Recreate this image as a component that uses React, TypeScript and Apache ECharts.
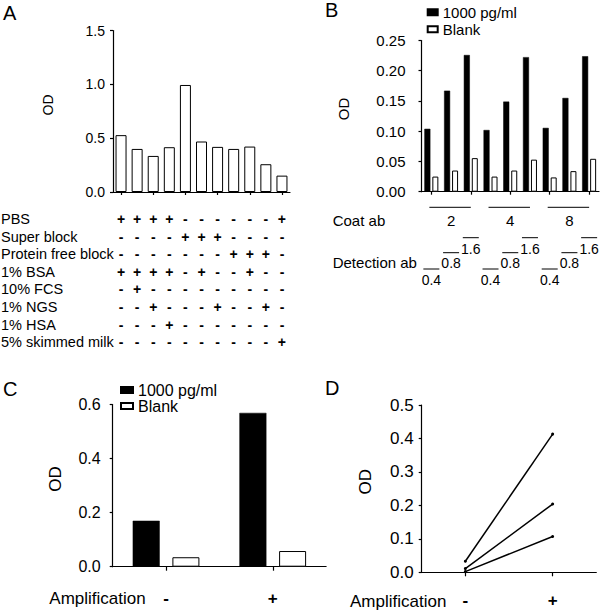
import React, { useEffect, useRef } from "react";
import * as echarts from "echarts";

const FONT = '"Liberation Sans", Arial, Helvetica, sans-serif';

// ---------- Panel A : blocking buffers ----------
const blockingBuffers = ["1", "2", "3", "4", "5", "6", "7", "8", "9", "10", "11"];
const blockingOD = [0.528, 0.4, 0.335, 0.416, 0.994, 0.469, 0.419, 0.4, 0.422, 0.258, 0.152];
const blockingRows = [
  "PBS",
  "Super block",
  "Protein free block",
  "1% BSA",
  "10% FCS",
  "1% NGS",
  "1% HSA",
  "5% skimmed milk",
];
const blockingMarks = [
  "++++------+",
  "----+++----",
  "-------+++-",
  "++++-+--+--",
  "-+---------",
  "--+---+--+-",
  "---+-------",
  "----------+",
];

// ---------- Panel B : antibody titration ----------
const coatAb = ["2", "4", "8"];
const detectionAb = ["0.4", "0.8", "1.6"];
const titrationConditions = coatAb.flatMap((c) => detectionAb.map((d) => `${c}/${d}`));
const titration1000 = [0.104, 0.167, 0.226, 0.102, 0.149, 0.2225, 0.1055, 0.155, 0.224];
const titrationBlank = [0.025, 0.035, 0.0555, 0.025, 0.035, 0.053, 0.0236, 0.034, 0.0544];

// ---------- Panel C : amplification ----------
const amplification = ["-", "+"];
const amp1000 = [0.17, 0.569];
const ampBlank = [0.035, 0.058];

// ---------- Panel D : amplification, three samples ----------
const ampHigh = [0.033, 0.413];
const ampMid = [0.011, 0.204];
const ampLow = [0.002, 0.107];

const SERIES_HIGH = "1000 pg/ml";
const SERIES_BLANK = "Blank";

function txt(
  text: string,
  x: number,
  y: number,
  size: number,
  align: string = "left",
  weight: string = "normal",
  rotation: number = 0
) {
  return {
    type: "text",
    x,
    y,
    rotation,
    silent: true,
    style: {
      text,
      font: `${weight} ${size}px ${FONT}`,
      fill: "#000",
      textAlign: align,
      textVerticalAlign: "middle",
      align,
      verticalAlign: "middle",
    },
  };
}

function hline(x1: number, x2: number, y: number) {
  return {
    type: "line",
    silent: true,
    shape: { x1, y1: y, x2, y2: y },
    style: { stroke: "#000", lineWidth: 1 },
  };
}

const axisLine = { show: true, lineStyle: { color: "#000", width: 1.2 } };

function yAxis(gridIndex: number, max: number, interval: number, fontSize: number, margin: number, digits: number) {
  return {
    gridIndex,
    type: "value",
    min: 0,
    max,
    interval,
    axisLine,
    axisTick: { show: true, length: 3, lineStyle: { color: "#000", width: 1.2 } },
    splitLine: { show: false },
    axisLabel: {
      fontSize,
      margin,
      color: "#000",
      fontFamily: FONT,
      formatter: (v: number) => v.toFixed(digits),
    },
  };
}

function xAxis(gridIndex: number, data: string[], tickLen: number, label: any) {
  return {
    gridIndex,
    type: "category",
    data,
    axisLine,
    axisTick: { show: true, alignWithLabel: true, length: tickLen, lineStyle: { color: "#000", width: 1.2 } },
    axisLabel: label,
    splitLine: { show: false },
  };
}

export default function App() {
  const ref = useRef<HTMLDivElement>(null);

  useEffect(() => {
    const chart = echarts.init(ref.current!, null, { renderer: "svg" });
    const whiteBar = { color: "#fff", borderColor: "#000", borderWidth: 1 };
    const blackBar = { color: "#000", borderColor: "#000", borderWidth: 0.5 };

    chart.setOption({
      animation: false,
      backgroundColor: "#fff",
      textStyle: { fontFamily: FONT, color: "#000" },
      grid: [
        { left: 113, top: 30.5, width: 177, height: 161.5 },
        { left: 421.5, top: 40.5, width: 177.5, height: 151.2 },
        { left: 112.7, top: 404.5, width: 213.4, height: 162.2 },
        { left: 421.7, top: 405, width: 174.6, height: 167.3 },
      ],
      xAxis: [
        xAxis(0, blockingBuffers, 3, { show: false }),
        xAxis(1, titrationConditions, 3, { show: false }),
        xAxis(2, amplification, 4, { fontSize: 17, fontWeight: "bold", margin: 23, color: "#000", fontFamily: FONT }),
        xAxis(3, amplification, 4, { fontSize: 17, fontWeight: "bold", margin: 20, color: "#000", fontFamily: FONT }),
      ],
      yAxis: [
        yAxis(0, 1.5, 0.5, 14, 8, 1),
        yAxis(1, 0.25, 0.05, 15, 16, 2),
        yAxis(2, 0.6, 0.2, 16, 12, 1),
        yAxis(3, 0.5, 0.1, 17, 8, 1),
      ],
      legend: [
        {
          data: [SERIES_HIGH, SERIES_BLANK],
          orient: "vertical",
          left: 426.7,
          top: 3.8,
          padding: 0,
          itemGap: 0,
          itemWidth: 10,
          itemHeight: 6,
          icon: "rect",
          selectedMode: false,
          textStyle: { fontSize: 15, lineHeight: 17, color: "#000", fontFamily: FONT },
        },
        {
          data: [SERIES_HIGH, SERIES_BLANK],
          orient: "vertical",
          left: 120,
          top: 382,
          padding: 0,
          itemGap: 0,
          itemWidth: 12,
          itemHeight: 6,
          icon: "rect",
          selectedMode: false,
          textStyle: { fontSize: 16, lineHeight: 14, color: "#000", fontFamily: FONT },
        },
      ],
      series: [
        {
          type: "bar",
          xAxisIndex: 0,
          yAxisIndex: 0,
          data: blockingOD,
          barWidth: 11,
          itemStyle: whiteBar,
        },
        {
          name: SERIES_HIGH,
          type: "bar",
          xAxisIndex: 1,
          yAxisIndex: 1,
          data: titration1000,
          barWidth: 6,
          barGap: "33%",
          itemStyle: blackBar,
        },
        {
          name: SERIES_BLANK,
          type: "bar",
          xAxisIndex: 1,
          yAxisIndex: 1,
          data: titrationBlank,
          barWidth: 6,
          barGap: "33%",
          itemStyle: whiteBar,
        },
        {
          name: SERIES_HIGH,
          type: "bar",
          xAxisIndex: 2,
          yAxisIndex: 2,
          data: amp1000,
          barWidth: 27,
          barGap: "47%",
          itemStyle: blackBar,
        },
        {
          name: SERIES_BLANK,
          type: "bar",
          xAxisIndex: 2,
          yAxisIndex: 2,
          data: ampBlank,
          barWidth: 27,
          barGap: "47%",
          itemStyle: whiteBar,
        },
        ...[ampHigh, ampMid, ampLow].map((d) => ({
          type: "line",
          xAxisIndex: 3,
          yAxisIndex: 3,
          data: d,
          symbol: "circle",
          symbolSize: 3,
          lineStyle: { color: "#000", width: 1.5 },
          itemStyle: { color: "#000" },
        })),
      ],
    });

    const px = (axis: number, i: number) => chart.convertToPixel({ xAxisIndex: axis } as any, i) as number;

    const g: any[] = [];
    // panel letters
    g.push(txt("A", 3, 12.5, 20));
    g.push(txt("B", 325, 10.3, 20));
    g.push(txt("C", 3, 389, 20));
    g.push(txt("D", 325, 387.5, 20));
    // OD titles
    g.push(txt("OD", 47.5, 105, 14, "center", "normal", Math.PI / 2));
    g.push(txt("OD", 343, 109, 15, "center", "normal", Math.PI / 2));
    g.push(txt("OD", 55, 479, 17, "center", "normal", Math.PI / 2));
    g.push(txt("OD", 365, 481.7, 17, "center", "normal", Math.PI / 2));

    // Panel A table
    blockingRows.forEach((row, r) => {
      const y = 219 + r * 17.6;
      g.push(txt(row, 1, y, 14.5));
      blockingMarks[r].split("").forEach((m, c) => {
        g.push(txt(m, px(0, c), y, 14, "center", "bold"));
      });
    });

    // Panel B annotations
    g.push(txt("Coat ab", 332.7, 220, 15));
    g.push(txt("Detection ab", 332.7, 262.7, 15));
    const stepTextY = [279.8, 262.8, 249.2];
    const stepLineY = [269, 252.7, 237.7];
    coatAb.forEach((c, k) => {
      const first = k * detectionAb.length;
      const last = first + detectionAb.length - 1;
      g.push(hline(px(1, first) - 2, px(1, last), 207.3));
      g.push(txt(c, px(1, first + 1), 220, 15, "center"));
      detectionAb.forEach((d, j) => {
        const cx = px(1, first + j);
        g.push(hline(cx - 8, cx + 8, stepLineY[j]));
        g.push(txt(d, cx, stepTextY[j], 14, "center"));
      });
    });

    // Amplification labels
    g.push(txt("Amplification", 49.3, 598.3, 17));
    g.push(txt("Amplification", 350, 601, 17));

    chart.setOption({ graphic: g });

    return () => chart.dispose();
  }, []);

  return (
    <div
      ref={ref}
      style={{ position: "fixed", left: 0, top: 0, width: 600, height: 611, background: "#fff" }}
    />
  );
}
